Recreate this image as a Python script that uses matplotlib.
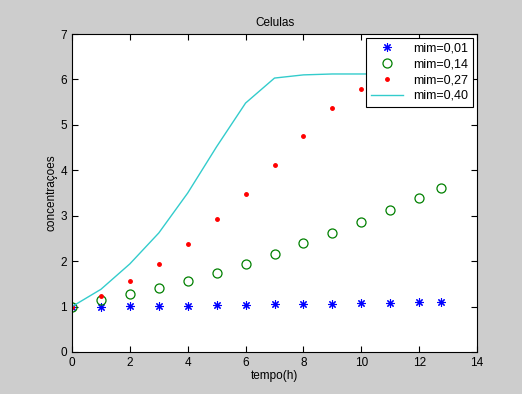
import matplotlib
matplotlib.use("Agg")
import matplotlib.pyplot as plt

plt.rcParams['font.family'] = ['Liberation Sans', 'DejaVu Sans']

# tempo (h)
tempo = [0, 1, 2, 3, 4, 5, 6, 7, 8, 9, 10, 11, 12, 12.75]

# concentracoes
mim_001 = [1.00, 1.00, 1.01, 1.01, 1.02, 1.03, 1.04, 1.05, 1.05, 1.06, 1.07, 1.07, 1.09, 1.09]
mim_014 = [1.00, 1.15, 1.27, 1.41, 1.56, 1.74, 1.94, 2.16, 2.40, 2.62, 2.86, 3.13, 3.39, 3.60]
mim_027 = [1.00, 1.23, 1.56, 1.94, 2.38, 2.93, 3.48, 4.12, 4.76, 5.37, 5.79, 6.00, 6.08, 6.10]
mim_040 = [1.00, 1.38, 1.94, 2.62, 3.50, 4.52, 5.48, 6.03, 6.10, 6.12, 6.12, 6.12, 6.12, 6.12]

fig = plt.figure(figsize=(5.22, 3.94), dpi=100, facecolor='#cdcdcd')
ax = fig.add_axes([72/522, 1 - 352/394, (477 - 72)/522, (352 - 34)/394])

ax.plot(tempo, mim_001, linestyle='none', marker=(8, 2, 0), color='blue', markersize=6,
        markeredgewidth=0.8, label='mim=0,01')
ax.plot(tempo, mim_014, linestyle='none', marker='o', markerfacecolor='none', markeredgecolor='green',
        markersize=6.5, markeredgewidth=0.9, label='mim=0,14')
ax.plot(tempo, mim_027, linestyle='none', marker='.', color='red', markersize=5, label='mim=0,27')
ax.plot(tempo, mim_040, color='#33cccc', linewidth=1, label='mim=0,40')

ax.set_xlim(0, 14)
ax.set_ylim(0, 7)
ax.set_xticks(range(0, 15, 2))
ax.set_yticks(range(0, 8))
ax.tick_params(direction='in', top=True, right=True, labelsize=8.5, length=4)
for s in ax.spines.values():
    s.set_linewidth(0.8)

ax.set_title('Celulas', fontsize=8.5, pad=6)
ax.set_xlabel('tempo(h)', fontsize=8.5, labelpad=1)
ax.set_ylabel('concentraçoes', fontsize=8.5, labelpad=2)

leg = ax.legend(loc='upper right', fontsize=9, fancybox=False, framealpha=1, edgecolor='black',
                borderaxespad=0.3, handlelength=2.6, labelspacing=0.3, borderpad=0.4,
                handletextpad=0.8)
leg.get_frame().set_linewidth(0.8)

fig.savefig('out.png', dpi=100, facecolor=fig.get_facecolor())
